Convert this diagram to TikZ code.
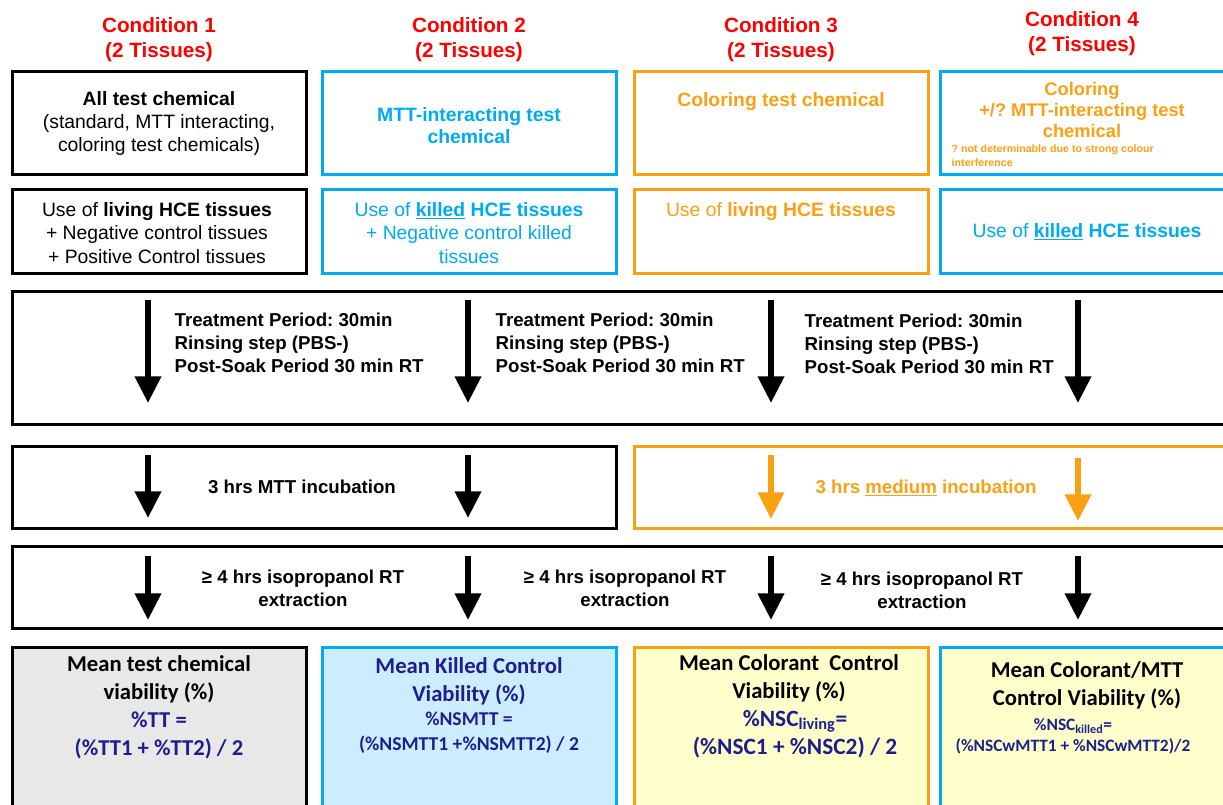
\documentclass[tikz,border=0pt]{standalone}
\usepackage{fontspec}
\setmainfont{Liberation Sans}
\newfontfamily\calibri{Carlito}
\usetikzlibrary{arrows.meta}
\frenchspacing
\definecolor{condred}{RGB}{255,0,0}
\definecolor{killblue}{RGB}{0,170,240}
\definecolor{colorange}{RGB}{250,160,20}
\definecolor{meanblue}{RGB}{30,30,140}
\definecolor{ttgray}{RGB}{232,232,232}
\definecolor{nsmttfill}{RGB}{204,236,255}
\definecolor{nscfill}{RGB}{255,255,204}
\tikzset{
  stepbox/.style={draw,rectangle,line width=2.25pt,inner sep=0pt},
  chembox/.style={stepbox,minimum width=220.5pt,minimum height=77.25pt},
  tissbox/.style={stepbox,minimum width=220.5pt,minimum height=63pt},
  meanbox/.style={stepbox,minimum width=220.5pt,minimum height=137.25pt},
  condtitle/.style={text=condred,align=center,font=\fontsize{15.5}{18.75}\selectfont\bfseries},
  plain/.style={align=center,font=\fontsize{14.5}{17.5}\selectfont},
  steptext/.style={align=left,anchor=west,font=\fontsize{14}{17.25}\selectfont\bfseries},
  midtext/.style={align=center,font=\fontsize{14}{17.25}\selectfont\bfseries},
  meanhead/.style={align=center,font=\calibri\fontsize{17}{21}\selectfont\bfseries},
  flow/.style={line width=4.5pt,-{Triangle[width=19pt,length=20pt]}},
}
\begin{document}
\begin{tikzpicture}[x=0.75pt,y=-0.75pt]
\useasboundingbox (0,0) rectangle (1223,805);
\clip (0,0) rectangle (1223,805);
%% conditions
\node (cond1) at (159,39.5) [condtitle] {Condition 1\\(2 Tissues)};
\node (cond2) at (469,39.5) [condtitle] {Condition 2\\(2 Tissues)};
\node (cond3) at (781,40) [condtitle] {Condition 3\\(2 Tissues)};
\node (cond4) at (1082,34) [condtitle] {Condition 4\\(2 Tissues)};
%% test chemicals
\node (chem1) at (159,123.5) [chembox,draw=black] {};
\node (chem2) at (469,123.5) [chembox,draw=killblue] {};
\node (chem3) at (781,123.5) [chembox,draw=colorange] {};
\node (chem4) at (1087,123.5) [chembox,draw=killblue] {};
\node (chem1_txt) at (159,123.5) [plain] {\textbf{All test chemical}\\(standard, MTT interacting,\\coloring test chemicals)};
\node (chem2_txt) at (469,126) [plain,text=killblue,font=\fontsize{14.5}{16.5}\selectfont\bfseries] {MTT-interacting test\\chemical};
\node (chem3_txt) at (781,102) [plain,text=colorange,font=\fontsize{14.5}{17.5}\selectfont\bfseries] {Coloring test chemical};
\node (chem4_txt) at (1082,110) [plain,text=colorange,font=\fontsize{13.7}{15.75}\selectfont\bfseries] {Coloring\\+/? MTT-interacting test\\chemical};
\node (chem4_note) at (947,156) [anchor=west,align=left,text=colorange,font=\fontsize{8}{10.5}\selectfont\bfseries] {? not determinable due to strong colour\\interference};
%% tissues
\node (tiss1) at (159,232) [tissbox,draw=black] {};
\node (tiss2) at (469,232) [tissbox,draw=killblue] {};
\node (tiss3) at (781,232) [tissbox,draw=colorange] {};
\node (tiss4) at (1087,232) [tissbox,draw=killblue] {};
\node (tiss1_txt) at (157,233) [plain] {Use of \textbf{living HCE tissues}\\+ Negative control tissues\\+ Positive Control tissues};
\node (tiss2_txt) at (469,233) [plain,text=killblue] {Use of \textbf{\underline{killed} HCE tissues}\\+ Negative control killed\\tissues};
\node (tiss3_txt) at (781,212) [plain,text=colorange] {Use of \textbf{living HCE tissues}};
\node (tiss4_txt) at (1087,232) [plain,text=killblue] {Use of \textbf{\underline{killed} HCE tissues}};
%% treatment
\node (treat) at (626,358) [stepbox,minimum width=921pt,minimum height=99pt] {};
\node (treat1_txt) at (170,343) [steptext] {Treatment Period: 30min\\Rinsing step (PBS-)\\Post-Soak Period 30 min RT};
\node (treat2_txt) at (491,343) [steptext] {Treatment Period: 30min\\Rinsing step (PBS-)\\Post-Soak Period 30 min RT};
\node (treat3_txt) at (800,344) [steptext] {Treatment Period: 30min\\Rinsing step (PBS-)\\Post-Soak Period 30 min RT};
%% incubation
\node (incub_mtt) at (314,487) [stepbox,minimum width=453pt,minimum height=61.5pt] {};
\node (incub_medium) at (937,487) [stepbox,draw=colorange,minimum width=454.5pt,minimum height=61.5pt] {};
\node (incub_mtt_txt) at (302,487) [midtext] {3 hrs MTT incubation};
\node (incub_medium_txt) at (926,488) [midtext,text=colorange] {3 hrs \underline{medium} incubation};
%% extraction
\node (extract) at (626,587) [stepbox,minimum width=921pt,minimum height=61.5pt] {};
\node (extract1_txt) at (303,588) [midtext] {≥ 4 hrs isopropanol RT\\extraction};
\node (extract2_txt) at (625,588) [midtext] {≥ 4 hrs isopropanol RT\\extraction};
\node (extract3_txt) at (922,590) [midtext] {≥ 4 hrs isopropanol RT\\extraction};
%% viability
\node (mean1) at (159,738.5) [meanbox,draw=black,fill=ttgray] {};
\node (mean2) at (469,738.5) [meanbox,draw=killblue,fill=nsmttfill] {};
\node (mean3) at (781,738.5) [meanbox,draw=colorange,fill=nscfill] {};
\node (mean4) at (1087,738.5) [meanbox,draw=killblue,fill=nscfill] {};
\node (mean1_head) at (159,679) [meanhead] {Mean test chemical\\viability (\%)};
\node (mean1_form) at (159,735) [meanhead,text=meanblue] {\%TT =\\(\%TT1 + \%TT2) / 2};
\node (mean2_head) at (469,681) [meanhead,text=meanblue] {Mean Killed Control\\Viability (\%)};
\node (mean2_form) at (469,732.5) [meanhead,text=meanblue,font=\calibri\fontsize{14.7}{18.75}\selectfont\bfseries] {\%NSMTT =\\(\%NSMTT1 +\%NSMTT2) / 2};
\node (mean3_head) at (789,678.5) [meanhead] {Mean Colorant \ Control\\Viability (\%)};
\node (mean3_form) at (795,734) [meanhead,text=meanblue,font=\calibri\fontsize{17.5}{21}\selectfont\bfseries] {\%NSC\textsubscript{living}=\\(\%NSC1 + \%NSC2) / 2};
\node (mean4_head) at (1087,685) [meanhead] {Mean Colorant/MTT\\Control Viability (\%)};
\node (mean4_form) at (1073,736.5) [meanhead,text=meanblue,font=\calibri\fontsize{13}{15.75}\selectfont\bfseries] {\%NSC\textsubscript{killed}=\\(\%NSCwMTT1 + \%NSCwMTT2)/2};
%% arrow ends
\coordinate (treat_top_1) at (148,300);
\coordinate (treat_bot_1) at (148,403);
\coordinate (treat_top_2) at (468,300);
\coordinate (treat_bot_2) at (468,403);
\coordinate (treat_top_3) at (771,300);
\coordinate (treat_bot_3) at (771,403);
\coordinate (treat_top_4) at (1078,300);
\coordinate (treat_bot_4) at (1078,403);
\coordinate (incub_top_1) at (148,455);
\coordinate (incub_bot_1) at (148,518);
\coordinate (incub_top_2) at (468,455);
\coordinate (incub_bot_2) at (468,518);
\coordinate (incub_top_3) at (771,455);
\coordinate (incub_bot_3) at (771,519);
\coordinate (incub_top_4) at (1078,458);
\coordinate (incub_bot_4) at (1078,521);
\coordinate (extract_top_1) at (148,556);
\coordinate (extract_bot_1) at (148,620);
\coordinate (extract_top_2) at (468,556);
\coordinate (extract_bot_2) at (468,620);
\coordinate (extract_top_3) at (771,556);
\coordinate (extract_bot_3) at (771,620);
\coordinate (extract_top_4) at (1078,556);
\coordinate (extract_bot_4) at (1078,620);
\draw [flow] (treat_top_1) -- (treat_bot_1);
\draw [flow] (treat_top_2) -- (treat_bot_2);
\draw [flow] (treat_top_3) -- (treat_bot_3);
\draw [flow] (treat_top_4) -- (treat_bot_4);
\draw [flow] (incub_top_1) -- (incub_bot_1);
\draw [flow] (incub_top_2) -- (incub_bot_2);
\draw [flow,colorange] (incub_top_3) -- (incub_bot_3);
\draw [flow,colorange] (incub_top_4) -- (incub_bot_4);
\draw [flow] (extract_top_1) -- (extract_bot_1);
\draw [flow] (extract_top_2) -- (extract_bot_2);
\draw [flow] (extract_top_3) -- (extract_bot_3);
\draw [flow] (extract_top_4) -- (extract_bot_4);
%
\end{tikzpicture}
\end{document}
